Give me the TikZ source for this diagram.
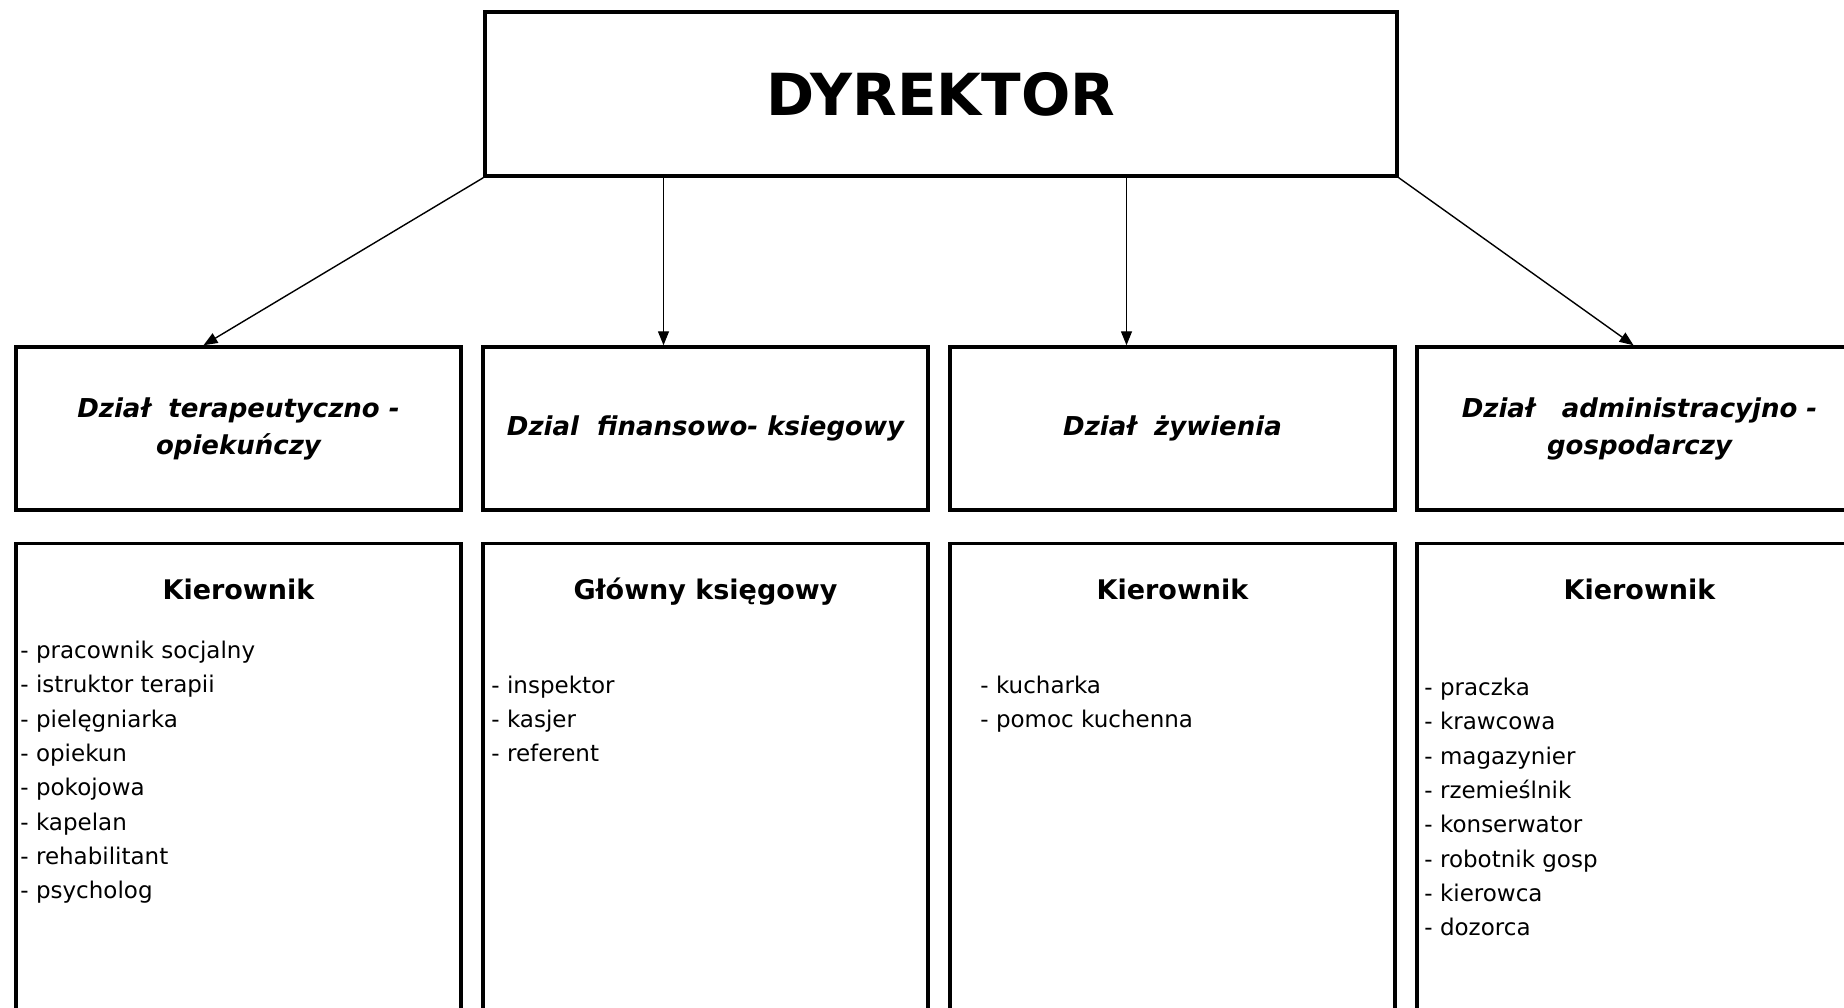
\documentclass[tikz,border=0pt]{standalone}
\usepackage{fontspec}
\setmainfont{DejaVu Sans}
\usetikzlibrary{arrows.meta,positioning}
\tikzstyle{mybox} = [draw=black, fill=white, line width=3.5pt, rectangle, inner sep=0pt]
\tikzstyle{dyrbox} = [mybox, minimum width=912pt, minimum height=164pt, font=\fontsize{58}{60}\selectfont\bfseries]
\tikzstyle{dzialbox} = [mybox, minimum width=445pt, minimum height=163pt, align=center, font=\fontsize{26}{37}\selectfont\bfseries\itshape]
\tikzstyle{kierbox} = [mybox, minimum width=445pt, minimum height=500pt]
\tikzstyle{kiertitle} = [anchor=base, inner sep=0pt, font=\fontsize{27}{30}\selectfont\bfseries]
\tikzstyle{lista} = [anchor=base west, inner sep=0pt, align=left, font=\fontsize{23}{34.3}\selectfont]
\tikzstyle{strzalka} = [line width=1.4pt, -{Triangle[length=14pt,width=11pt]}]

\begin{document}
\begin{tikzpicture}[x=1pt,y=-1pt]
\useasboundingbox (0,0) rectangle (1844,1007);
\clip (0,0) rectangle (1844,1007);
\node [dyrbox] (dyr) at (941,94) {DYREKTOR};

\node [dzialbox] (d1) at (238.5,428.5) {Dział\ \ terapeutyczno -\\opiekuńczy};
\node [dzialbox, right=18.5pt of d1] (d2) {Dzial\ \ finansowo- ksiegowy};
\node [dzialbox, right=18.5pt of d2] (d3) {Dział\ \ żywienia};
\node [dzialbox, right=18.5pt of d3] (d4) {Dział\ \ \ administracyjno -\\gospodarczy};

\node [kierbox, below=30pt of d1] (k1) {};
\node [kierbox, below=30pt of d2] (k2) {};
\node [kierbox, below=30pt of d3] (k3) {};
\node [kierbox, below=30pt of d4] (k4) {};

\node [kiertitle] (k1t) at ([yshift=-58pt]k1.north) {Kierownik};
\node [kiertitle] (k2t) at ([yshift=-58pt]k2.north) {Główny księgowy};
\node [kiertitle] (k3t) at ([yshift=-58pt]k3.north) {Kierownik};
\node [kiertitle] (k4t) at ([yshift=-58pt]k4.north) {Kierownik};

\node [lista] (k1l) at ([xshift=6pt,yshift=-357pt]k1.north west) {- pracownik socjalny\\- istruktor terapii\\- pielęgniarka\\- opiekun\\- pokojowa\\- kapelan\\- rehabilitant\\- psycholog};
\node [lista] (k2l) at ([xshift=10pt,yshift=-220pt]k2.north west) {- inspektor\\- kasjer\\- referent};
\node [lista] (k3l) at ([xshift=32pt,yshift=-186pt]k3.north west) {- kucharka\\- pomoc kuchenna};
\node [lista] (k4l) at ([xshift=9pt,yshift=-394pt]k4.north west) {- praczka\\- krawcowa\\- magazynier\\- rzemieślnik\\- konserwator\\- robotnik gosp\\- kierowca\\- dozorca};

\coordinate (p2) at ([xshift=-42pt]d2.north);
\coordinate (p3) at ([xshift=-46pt]d3.north);
\draw [strzalka] (dyr.south west) -- ([xshift=-35pt]d1.north);
\draw [strzalka] (dyr.south -| p2) -- (p2);
\draw [strzalka] (dyr.south -| p3) -- (p3);
\draw [strzalka] (dyr.south east) -- ([xshift=-6pt]d4.north);
\end{tikzpicture}
\end{document}
